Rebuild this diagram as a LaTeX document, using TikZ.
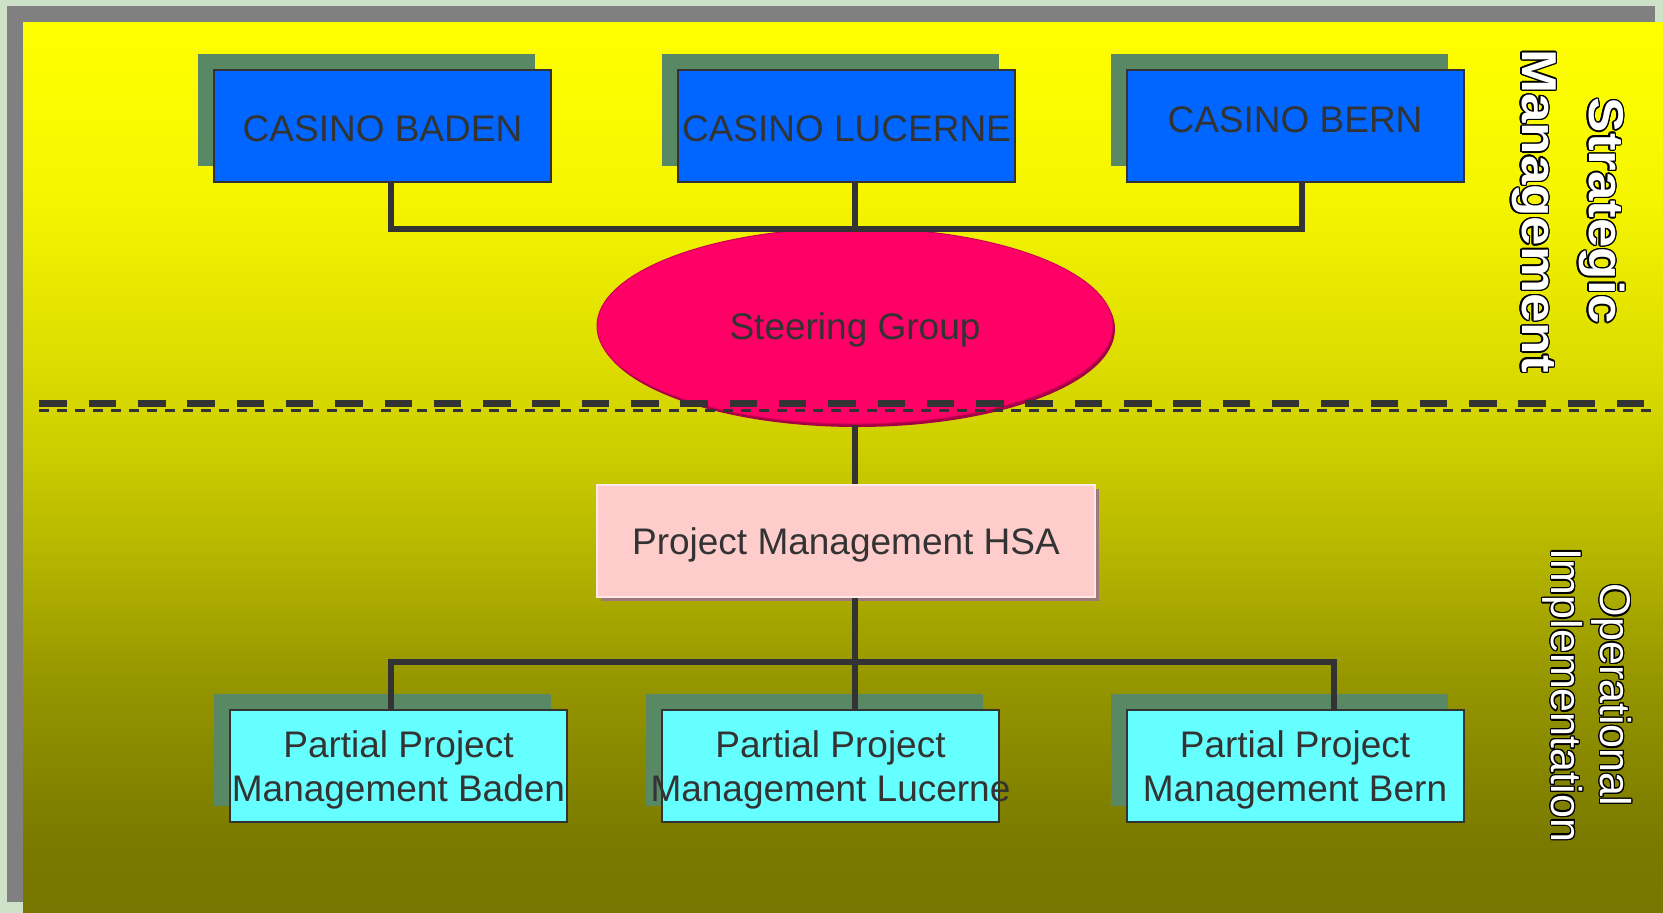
\documentclass[tikz,border=0pt]{standalone}
\usepackage{fontspec}
\setmainfont{Liberation Sans}
\newfontfamily\sidefont[FakeStretch=1.08]{Liberation Sans}
\usepackage{contour}
\contourlength{1.3pt}
\usetikzlibrary{shapes.geometric,shadows}

\definecolor{pagegreen}{RGB}{205,226,200}
\definecolor{framegray}{RGB}{128,128,128}
\definecolor{casinoblue}{RGB}{0,102,255}
\definecolor{shadowgreen}{RGB}{88,136,100}
\definecolor{txtgray}{RGB}{51,51,51}
\definecolor{steerpink}{RGB}{255,0,102}
\definecolor{steeredge}{RGB}{205,0,85}
\definecolor{steershadow}{RGB}{165,0,70}
\definecolor{hsapink}{RGB}{255,204,204}
\definecolor{hsaedge}{RGB}{255,232,232}
\definecolor{hsashadow}{RGB}{160,120,124}
\definecolor{partcyan}{RGB}{102,255,255}
%background gradient
\definecolor{bgA}{RGB}{118,118,0}
\definecolor{bgB}{RGB}{122,122,0}
\definecolor{bgC}{RGB}{150,150,0}
\definecolor{bgD}{RGB}{180,180,0}
\definecolor{bgE}{RGB}{203,203,0}
\definecolor{bgF}{RGB}{214,214,0}
\definecolor{bgG}{RGB}{245,245,0}
\definecolor{bgH}{RGB}{255,255,0}
\pgfdeclareverticalshading{slidebg}{100bp}{color(0bp)=(bgA); color(25bp)=(bgA); color(29.1bp)=(bgB); color(38.1bp)=(bgC); color(44.8bp)=(bgD); color(50.4bp)=(bgE); color(53.6bp)=(bgF); color(65bp)=(bgG); color(75bp)=(bgH); color(100bp)=(bgH)}

%one line of a partial project box, allowed to run over the border
\newcommand{\pline}[1]{\makebox[300pt]{#1}}

\tikzset{
	box/.style={draw=txtgray, line width=2pt, minimum width=337pt, minimum height=112pt, inner sep=0pt, text=txtgray, align=center, text depth=0pt, font=\fontsize{37}{44.5}\selectfont},
	casino/.style={box, fill=casinoblue, text height=31pt, drop shadow={shadow xshift=-16pt, shadow yshift=16pt, opacity=1, fill=shadowgreen}},
	partbox/.style={box, fill=partcyan, drop shadow={shadow xshift=-16pt, shadow yshift=16pt, opacity=1, fill=shadowgreen}},
	link/.style={draw=txtgray, line width=5.8pt},
	sidetext/.style={rotate=-90, text=white, align=center, inner sep=0pt}
}

\begin{document}
\begin{tikzpicture}[x=1pt,y=-1pt]
\useasboundingbox (0,0) rectangle (1663,913);

%slide background and frame
\fill[pagegreen] (0,0) rectangle (1663,913);
\fill[framegray] (7,6) rectangle (1655,902);
\shade[shading=slidebg] (23,22) rectangle (1663,913);

%casino boxes
\foreach \name/\x/\txt in {cbaden/382.5/CASINO BADEN, clucerne/846.5/CASINO LUCERNE}{
	\node[casino] (\name) at (\x,126) {\txt};
}
\node[casino, text depth=19pt] (cbern) at (1295,126) {CASINO BERN};

%steering group
\node[ellipse, fill=steerpink, draw=steeredge, line width=1pt, minimum width=516pt, minimum height=196pt, inner sep=0pt, text=txtgray, text depth=0pt, font=\fontsize{37}{44.5}\selectfont, drop shadow={shadow xshift=2pt, shadow yshift=-3pt, opacity=1, fill=steershadow}] (steer) at (855,326) {Steering Group};

%project management
\node[box, draw=hsaedge, line width=1.5pt, fill=hsapink, minimum width=498pt, drop shadow={shadow xshift=4pt, shadow yshift=-4pt, opacity=1, fill=hsashadow}] (hsa) at (846,541) {Project Management HSA};

%partial project boxes
\foreach \name/\x/\place in {pbaden/398.5/Baden, plucerne/830.5/Lucerne, pbern/1295/Bern}{
	\node[partbox] (\name) at (\x,766) {\pline{Partial Project}\\\pline{Management \place}};
}

%connectors
\coordinate (topbus) at (855,229);
\coordinate (botbus) at (855,662);
\draw[link] ([xshift=8.5pt]cbaden.south) |- (topbus) -| ([xshift=7pt]cbern.south);
\draw[link] ([xshift=8.5pt]clucerne.south) -- (steer.north);
\draw[link] (steer.south) -- (hsa.north -| steer.south);
\draw[link] (hsa.south -| steer.south) -- (botbus);
\draw[link] ([xshift=-7.5pt]pbaden.north) |- (botbus) -| ([xshift=39pt]pbern.north);
\draw[link] (botbus) -- (plucerne.north -| botbus);

%dividing line
\draw[txtgray, line width=6.5pt, dash pattern=on 27.5pt off 21.8pt] (39.4,403.3) -- (1644,403.3);
\draw[txtgray, line width=2.5pt, dash pattern=on 9.5pt off 8.5pt] (39,410.3) -- (1655,410.3);

%side labels
\node[sidetext, font=\sidefont\bfseries\fontsize{49}{67}\selectfont] (strat) at (1567.5,211) {\contour{black}{Strategic}\\\contour{black}{Management}};
\node[sidetext, font=\fontsize{43}{49}\selectfont] (oper) at (1586.5,695) {\contour{black}{Operational}\\\contour{black}{Implementation}};
\end{tikzpicture}
\end{document}
